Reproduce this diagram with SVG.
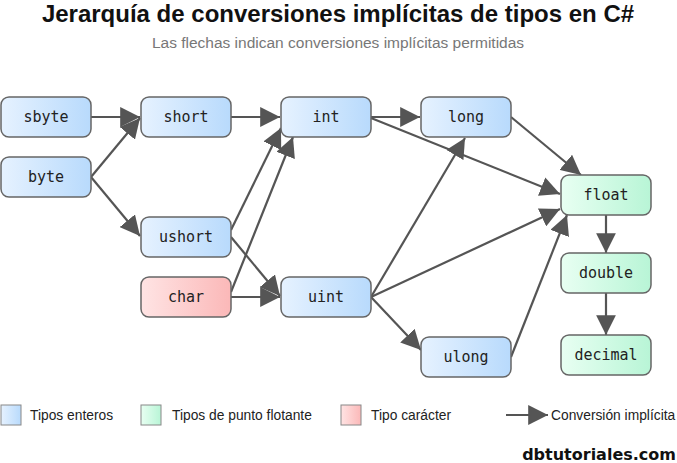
<svg xmlns="http://www.w3.org/2000/svg" width="677" height="463" viewBox="0 0 677 463">
<style>
.n rect{stroke:#666;stroke-width:1.5}
.n text{font-family:"DejaVu Sans Mono",monospace;font-size:15px;fill:#222;text-anchor:middle}
.e line{stroke:#555;stroke-width:2.2;marker-end:url(#a2)}
.l{font-family:"Liberation Sans",Arial,sans-serif;font-size:13.8px;fill:#222}
</style>
<defs>
<linearGradient id="gb"><stop offset="0" stop-color="#e6f2ff"/><stop offset="1" stop-color="#b8dafc"/></linearGradient>
<linearGradient id="gg"><stop offset="0" stop-color="#e8fff2"/><stop offset="1" stop-color="#b8f5d6"/></linearGradient>
<linearGradient id="gr"><stop offset="0" stop-color="#ffe4e4"/><stop offset="1" stop-color="#fbb8b8"/></linearGradient>
<marker id="a2" viewBox="0 0 10 10" refX="10" refY="5" markerWidth="9" markerHeight="9" orient="auto"><path d="M0,0L10,5L0,10z" fill="#555"/></marker>
</defs>
<rect width="677" height="463" fill="#fff"/>
<text x="338" y="22" text-anchor="middle" font-family="Liberation Sans,Arial,sans-serif" font-weight="bold" font-size="24" fill="#111">Jerarquía de conversiones implícitas de tipos en C#</text>
<text x="338" y="48" text-anchor="middle" font-family="Liberation Sans,Arial,sans-serif" font-size="15.5" fill="#777">Las flechas indican conversiones implícitas permitidas</text>
<g class="e" id="connectors">
<line x1="91" y1="117" x2="140" y2="117"/>
<line x1="91" y1="177" x2="140" y2="118"/>
<line x1="91" y1="177" x2="140" y2="236"/>
<line x1="231" y1="117" x2="280" y2="117"/>
<line x1="231" y1="230" x2="281" y2="128"/>
<line x1="231" y1="292" x2="293" y2="137"/>
<line x1="231" y1="237" x2="280" y2="296"/>
<line x1="231" y1="297" x2="280" y2="297"/>
<line x1="371" y1="117" x2="420" y2="117"/>
<line x1="371" y1="118" x2="560" y2="194"/>
<line x1="511" y1="117" x2="581" y2="175"/>
<line x1="371" y1="297" x2="465" y2="138"/>
<line x1="371" y1="297" x2="560" y2="209"/>
<line x1="371" y1="297" x2="421" y2="350"/>
<line x1="511" y1="357" x2="567" y2="215"/>
<line x1="606" y1="215" x2="606" y2="253"/>
<line x1="606" y1="293" x2="606" y2="335"/>
</g>
<g class="n" id="n-sbyte"><rect x="1" y="97" width="90" height="40" rx="8" fill="url(#gb)"/><text x="46" y="122">sbyte</text></g>
<g class="n" id="n-byte"><rect x="1" y="157" width="90" height="40" rx="8" fill="url(#gb)"/><text x="46" y="182">byte</text></g>
<g class="n" id="n-short"><rect x="141" y="97" width="90" height="40" rx="8" fill="url(#gb)"/><text x="186" y="122">short</text></g>
<g class="n" id="n-ushort"><rect x="141" y="217" width="90" height="40" rx="8" fill="url(#gb)"/><text x="186" y="242">ushort</text></g>
<g class="n" id="n-char"><rect x="141" y="277" width="90" height="40" rx="8" fill="url(#gr)"/><text x="186" y="302">char</text></g>
<g class="n" id="n-int"><rect x="281" y="97" width="90" height="40" rx="8" fill="url(#gb)"/><text x="326" y="122">int</text></g>
<g class="n" id="n-uint"><rect x="281" y="277" width="90" height="40" rx="8" fill="url(#gb)"/><text x="326" y="302">uint</text></g>
<g class="n" id="n-long"><rect x="421" y="97" width="90" height="40" rx="8" fill="url(#gb)"/><text x="466" y="122">long</text></g>
<g class="n" id="n-ulong"><rect x="421" y="337" width="90" height="40" rx="8" fill="url(#gb)"/><text x="466" y="362">ulong</text></g>
<g class="n" id="n-float"><rect x="561" y="175" width="90" height="40" rx="8" fill="url(#gg)"/><text x="606" y="200">float</text></g>
<g class="n" id="n-double"><rect x="561" y="253" width="90" height="40" rx="8" fill="url(#gg)"/><text x="606" y="278">double</text></g>
<g class="n" id="n-decimal"><rect x="561" y="335" width="90" height="40" rx="8" fill="url(#gg)"/><text x="606" y="360">decimal</text></g>
<g id="legend">
<rect x="1" y="405" width="20" height="20" fill="url(#gb)" stroke="#888"/><text class="l" x="30" y="420">Tipos enteros</text>
<rect x="141" y="405" width="20" height="20" fill="url(#gg)" stroke="#888"/><text class="l" x="172" y="420">Tipos de punto flotante</text>
<rect x="341" y="405" width="20" height="20" fill="url(#gr)" stroke="#888"/><text class="l" x="371" y="420">Tipo carácter</text>
<line x1="506" y1="415" x2="548" y2="415" stroke="#555" stroke-width="2.2" marker-end="url(#a2)"/><text class="l" x="551" y="420">Conversión implícita</text>
</g>
<text x="676" y="460" text-anchor="end" font-family="DejaVu Sans,sans-serif" font-weight="bold" font-size="16" fill="#111">dbtutoriales.com</text>
</svg>
